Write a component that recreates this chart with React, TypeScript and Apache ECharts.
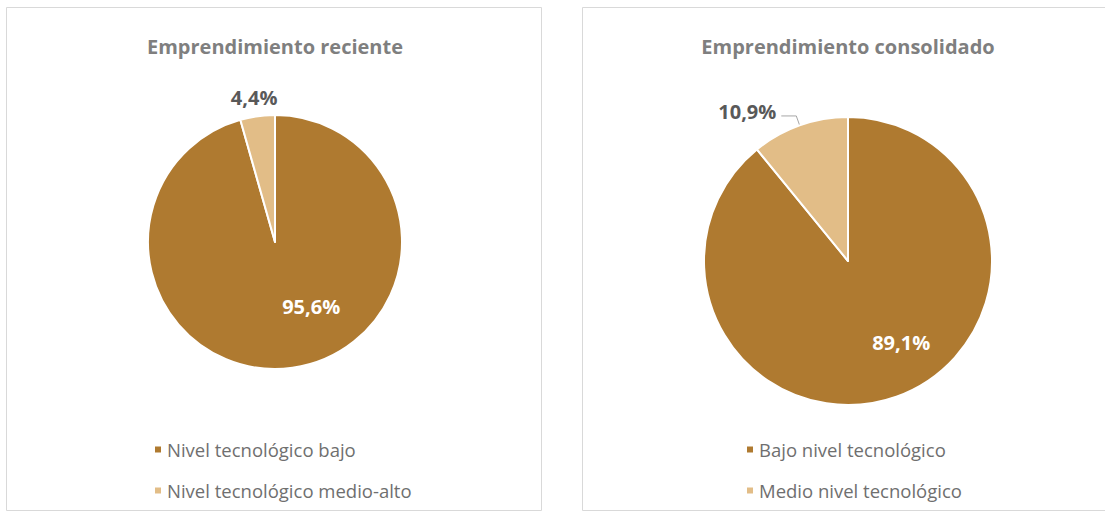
import React, { useEffect, useRef } from "react";
import * as echarts from "echarts";

const titles = ["Emprendimiento reciente", "Emprendimiento consolidado"];
const leftCategories = ["Nivel tecnológico bajo", "Nivel tecnológico medio-alto"];
const leftValues = [95.6, 4.4];
const rightCategories = ["Bajo nivel tecnológico", "Medio nivel tecnológico"];
const rightValues = [89.1, 10.9];
const colors = ["#AF7A30", "#E2BD87"];

const FONT = "'Open Sans', sans-serif";

const fmt = (p: any) => Number(p.value).toFixed(1).replace(".", ",") + "%";

export default function App() {
  const ref = useRef<HTMLDivElement>(null);
  useEffect(() => {
    if (!ref.current) return;
    const chart = echarts.init(ref.current, undefined, { renderer: "svg" });
    const bigLabel = {
      show: true,
      position: "inside",
      color: "#ffffff",
      fontFamily: FONT,
      fontWeight: "bold",
      fontSize: 20,
      formatter: fmt,
    };
    const smallLabelBase = {
      show: true,
      position: "outside",
      color: "#595959",
      fontFamily: FONT,
      fontWeight: "bold",
      fontSize: 20,
      formatter: fmt,
    };
    const titleStyle = { fontFamily: FONT, fontWeight: "bold", fontSize: 20, color: "#7f7f7f" };
    const legendText = { fontFamily: FONT, fontSize: 18.5, color: "#6f6f6f" };
    chart.setOption({
      animation: false,
      color: colors,
      graphic: [
        { type: "rect", shape: { x: 6.5, y: 7.5, width: 535, height: 503 }, style: { fill: "none", stroke: "#d9d9d9", lineWidth: 1 }, silent: true },
        { type: "rect", shape: { x: 582.5, y: 7.5, width: 540, height: 503 }, style: { fill: "none", stroke: "#d9d9d9", lineWidth: 1 }, silent: true },
      ],
      title: [
        { text: titles[0], left: 275, top: 36, padding: 0, textAlign: "center", textStyle: titleStyle },
        { text: titles[1], left: 848, top: 36, padding: 0, textAlign: "center", textStyle: titleStyle },
      ],
      legend: [
        {
          data: leftCategories,
          orient: "vertical",
          left: 148,
          top: 435,
          itemWidth: 8,
          itemHeight: 8,
          itemGap: 22,
          icon: "rect",
          textStyle: legendText,
        },
        {
          data: rightCategories,
          orient: "vertical",
          left: 740,
          top: 435,
          itemWidth: 8,
          itemHeight: 8,
          itemGap: 22,
          icon: "rect",
          textStyle: legendText,
        },
      ],
      series: [
        {
          type: "pie",
          center: [275, 242],
          radius: 127,
          startAngle: 90,
          clockwise: true,
          itemStyle: { borderColor: "#ffffff", borderWidth: 2 },
          data: [
            { name: leftCategories[0], value: leftValues[0], label: { ...bigLabel, offset: [27, -1] } },
            {
              name: leftCategories[1],
              value: leftValues[1],
              label: { ...smallLabelBase, offset: [26, -11] },
              labelLine: { show: false, length: 8, length2: 0 },
            },
          ],
        },
        {
          type: "pie",
          center: [848, 261],
          radius: 144,
          startAngle: 90,
          clockwise: true,
          itemStyle: { borderColor: "#ffffff", borderWidth: 2 },
          data: [
            { name: rightCategories[0], value: rightValues[0], label: { ...bigLabel, offset: [28, 11] } },
            {
              name: rightCategories[1],
              value: rightValues[1],
              label: { ...smallLabelBase, offset: [0, -4] },
              labelLine: { show: true, length: 10, length2: 15, lineStyle: { color: "#a6a6a6", width: 1 } },
            },
          ],
        },
      ],
    });
    return () => chart.dispose();
  }, []);
  return (
    <div
      ref={ref}
      style={{ position: "absolute", left: 0, top: 0, width: 1105, height: 513, background: "#fff" }}
    />
  );
}
